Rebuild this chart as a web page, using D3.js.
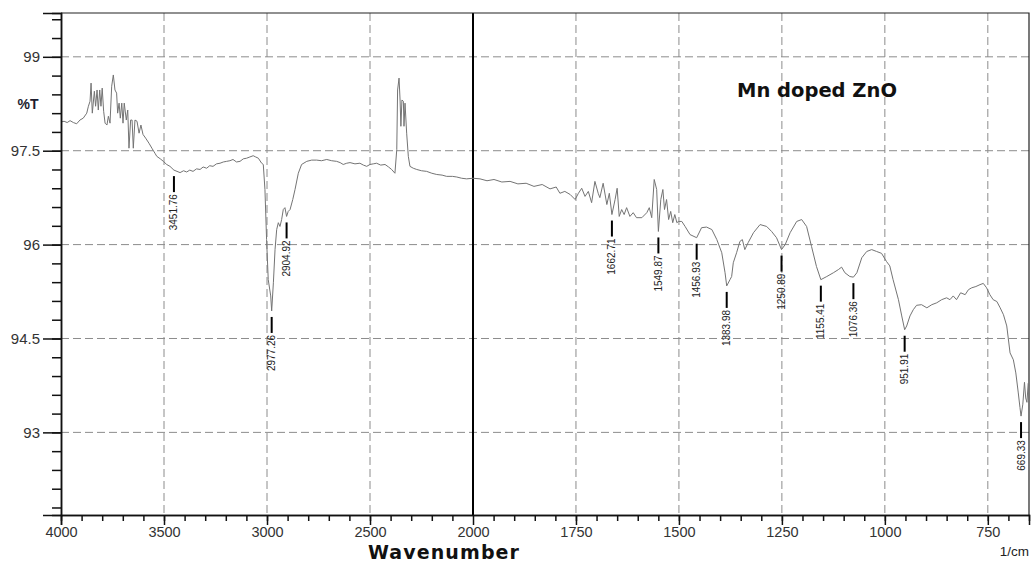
<!DOCTYPE html>
<html>
<head>
<meta charset="utf-8">
<script src="https://cdn.jsdelivr.net/npm/d3@7"></script>
<style>
  html, body { margin: 0; padding: 0; background: #fff; }
  svg { display: block; }
</style>
</head>
<body>
<svg id="chart" width="1033" height="564"></svg>
<script>
// FTIR transmission spectrum of Mn doped ZnO, [wavenumber (1/cm), %T]
const spectrum = [
  [4000, 97.96], [3985, 97.97], [3970, 97.95], [3956, 97.98], [3940, 97.95],
  [3924, 97.93], [3908, 97.99], [3892, 98.02], [3875, 98.10], [3867, 98.21],
  [3859, 98.29], [3854, 98.58], [3848, 98.10], [3838, 98.45], [3832, 98.21],
  [3825, 98.47], [3819, 98.15], [3812, 98.47], [3806, 98.21], [3800, 98.50],
  [3793, 98.13], [3786, 97.94], [3777, 97.91], [3770, 98.05], [3762, 97.94],
  [3754, 98.53], [3746, 98.71], [3738, 98.47], [3730, 98.42], [3725, 98.10],
  [3718, 98.26], [3712, 98.02], [3705, 98.26], [3699, 97.94], [3693, 98.26],
  [3683, 97.99], [3676, 98.15], [3670, 97.54], [3662, 97.99], [3655, 97.99],
  [3649, 97.54], [3641, 97.99], [3631, 97.97], [3621, 97.78], [3612, 97.91],
  [3602, 97.76], [3589, 97.70], [3573, 97.62], [3557, 97.53], [3544, 97.46],
  [3535, 97.41], [3518, 97.37], [3503, 97.33], [3487, 97.28], [3471, 97.25],
  [3451.76, 97.19], [3422, 97.15], [3405, 97.18], [3390, 97.16], [3375, 97.19],
  [3359, 97.17], [3342, 97.21], [3325, 97.20], [3310, 97.24], [3293, 97.22],
  [3278, 97.26], [3262, 97.25], [3245, 97.29], [3228, 97.30], [3212, 97.32],
  [3196, 97.33], [3180, 97.34], [3165, 97.36], [3148, 97.32], [3131, 97.33],
  [3115, 97.37], [3099, 97.38], [3083, 97.40], [3067, 97.42], [3055, 97.40],
  [3042, 97.38], [3026, 97.30], [3018, 97.28], [3010, 96.88], [3002, 96.08],
  [2994, 95.44], [2982, 95.18], [2977.26, 94.94], [2969, 95.39], [2961, 95.92],
  [2953, 96.24], [2945, 96.35], [2937, 96.29], [2929, 96.40], [2921, 96.56],
  [2913, 96.59], [2904.92, 96.45], [2897, 96.53], [2888, 96.56], [2875, 96.72],
  [2864, 96.88], [2848, 97.14], [2832, 97.28], [2807, 97.33], [2783, 97.35],
  [2759, 97.35], [2735, 97.34], [2710, 97.36], [2686, 97.34], [2662, 97.33],
  [2645, 97.31], [2630, 97.28], [2613, 97.30], [2597, 97.31], [2573, 97.29],
  [2549, 97.30], [2532, 97.27], [2516, 97.25], [2500, 97.28], [2484, 97.29],
  [2468, 97.30], [2448, 97.27], [2427, 97.28], [2410, 97.24], [2395, 97.20],
  [2379, 97.14], [2370, 97.52], [2366, 98.47], [2359, 98.66], [2354, 98.31],
  [2350, 97.89], [2345, 98.31], [2338, 98.29], [2335, 97.89], [2330, 98.26],
  [2322, 97.78], [2314, 97.41], [2306, 97.25], [2290, 97.22], [2273, 97.20],
  [2250, 97.18], [2225, 97.17], [2200, 97.14], [2176, 97.12], [2150, 97.11],
  [2128, 97.09], [2100, 97.09], [2079, 97.08], [2055, 97.06], [2031, 97.05],
  [2000, 97.06], [1983, 97.05], [1966, 97.02], [1949, 97.04], [1930, 97.00],
  [1910, 97.01], [1891, 96.97], [1871, 96.98], [1852, 96.93], [1832, 96.96],
  [1813, 96.89], [1798, 96.92], [1789, 96.82], [1777, 96.85], [1764, 96.80],
  [1752, 96.72], [1744, 96.82], [1736, 96.90], [1728, 96.77], [1720, 96.85],
  [1712, 96.67], [1704, 97.01], [1696, 96.82], [1692, 96.75], [1684, 96.98],
  [1675, 96.64], [1669, 96.82], [1662.71, 96.48], [1655, 96.72], [1650, 96.90],
  [1645, 96.45], [1639, 96.56], [1633, 96.48], [1627, 96.59], [1619, 96.45],
  [1611, 96.51], [1603, 96.43], [1590, 96.43], [1578, 96.51], [1572, 96.59],
  [1566, 96.43], [1560, 97.04], [1554, 96.88], [1549.87, 96.21], [1544, 96.72],
  [1539, 96.88], [1535, 96.56], [1530, 96.72], [1525, 96.40], [1520, 96.53],
  [1515, 96.35], [1510, 96.48], [1505, 96.35], [1501, 96.37], [1493, 96.37],
  [1485, 96.29], [1473, 96.16], [1456.93, 96.11], [1445, 96.27], [1433, 96.28],
  [1420, 96.24], [1408, 96.08], [1396, 95.87], [1388, 95.55], [1383.98, 95.34],
  [1376, 95.44], [1372, 95.49], [1368, 95.71], [1360, 95.87], [1352, 96.05],
  [1346, 96.08], [1340, 95.92], [1332, 96.03], [1319, 96.19], [1303, 96.32],
  [1287, 96.29], [1275, 96.21], [1263, 96.11], [1250.89, 95.92], [1242, 96.00],
  [1230, 96.19], [1214, 96.37], [1202, 96.40], [1190, 96.29], [1178, 95.97],
  [1166, 95.65], [1155.41, 95.44], [1141, 95.49], [1125, 95.55], [1113, 95.60],
  [1105, 95.64], [1097, 95.55], [1085, 95.49], [1076.36, 95.48], [1068, 95.55],
  [1056, 95.79], [1044, 95.89], [1032, 95.92], [1020, 95.89], [1008, 95.86],
  [996, 95.73], [988, 95.66], [980, 95.44], [967, 95.12], [959, 94.86],
  [951.91, 94.64], [947, 94.70], [939, 94.86], [931, 94.96], [923, 95.03],
  [911, 95.04], [898, 94.99], [886, 95.04], [874, 95.07], [862, 95.12],
  [850, 95.15], [842, 95.12], [834, 95.18], [826, 95.12], [816, 95.23],
  [805, 95.20], [797, 95.28], [789, 95.31], [779, 95.33], [769, 95.36],
  [761, 95.38], [753, 95.31], [745, 95.20], [737, 95.12], [728, 95.09],
  [720, 94.99], [712, 94.88], [704, 94.70], [696, 94.27], [688, 94.16],
  [682, 93.95], [676, 93.63], [672, 93.40], [669.33, 93.26], [665, 93.45],
  [661, 93.80], [658, 93.55], [655, 93.48], [652, 93.78], [650, 93.75]
];

// Picked peaks (wavenumbers printed under each band)
const peakWavenumbers = [3451.76, 2977.26, 2904.92, 1662.71, 1549.87, 1456.93,
  1383.98, 1250.89, 1155.41, 1076.36, 951.91, 669.33];

// Axis ticks
const xMajorTicks = [4000, 3500, 3000, 2500, 2000, 1750, 1500, 1250, 1000, 750];
const xGridTicks = [3500, 3000, 2500, 1750, 1500, 1250, 1000, 750];
const xMinorUpper = d3.range(3900, 2000, -100);
const xMinorLower = d3.range(1950, 650, -50);
const yMajorTicks = [93, 94.5, 96, 97.5, 99];
const yMinorTicks = d3.range(91.8, 99.7, 0.3).map(v => +v.toFixed(1));

const titleText = "Mn doped ZnO";
const xTitle = "Wavenumber";
const yTitle = "%T";
const xUnit = "1/cm";

// Plot frame
const plotLeft = 61, plotRight = 1029, plotTop = 13, plotBottom = 515;

const svg = d3.select("#chart");

// Split scale: 4000-2000 compressed, 2000-650 expanded
const x = d3.scaleLinear().domain([4000, 2000, 650]).range([plotLeft, 473, plotRight]);
const y = d3.scaleLinear().domain([91.68, 99.70]).range([plotBottom, plotTop]);

// Dashed grid
const grid = svg.append("g").attr("stroke", "#8c8c8c").attr("stroke-width", 1)
  .attr("stroke-dasharray", "8,4").attr("fill", "none");
grid.selectAll("line.h").data(yMajorTicks).join("line").attr("class", "h")
  .attr("x1", plotLeft).attr("x2", plotRight)
  .attr("y1", d => y(d)).attr("y2", d => y(d));
grid.selectAll("line.v").data(xGridTicks).join("line").attr("class", "v")
  .attr("x1", d => x(d)).attr("x2", d => x(d))
  .attr("y1", plotTop).attr("y2", plotBottom);

// Solid divider at the scale break
svg.append("line")
  .attr("x1", x(2000)).attr("x2", x(2000)).attr("y1", plotTop).attr("y2", plotBottom)
  .attr("stroke", "#000").attr("stroke-width", 2);

// Frame (top and right)
svg.append("path")
  .attr("d", `M${plotLeft},${plotTop}H${plotRight}V${plotBottom}`)
  .attr("fill", "none").attr("stroke", "#222").attr("stroke-width", 1.2);

// Spectrum line
const line = d3.line().x(d => x(d[0])).y(d => y(d[1]));
svg.append("path").datum(spectrum)
  .attr("d", line)
  .attr("fill", "none").attr("stroke", "#747474").attr("stroke-width", 1)
  .attr("stroke-linejoin", "round");

// X axis
const xAxisMinor = d3.axisBottom(x).tickValues(xMinorUpper.concat(xMinorLower))
  .tickSize(6).tickFormat("");
const xAxisMajor = d3.axisBottom(x).tickValues(xMajorTicks)
  .tickSize(10).tickPadding(2).tickFormat(d3.format("d"));
const gxMinor = svg.append("g").attr("transform", `translate(0,${plotBottom})`).call(xAxisMinor);
const gx = svg.append("g").attr("transform", `translate(0,${plotBottom})`).call(xAxisMajor);
[gx, gxMinor].forEach(g => {
  g.select(".domain").attr("stroke", "#111").attr("stroke-width", 1.5);
  g.selectAll(".tick line").attr("stroke", "#111").attr("stroke-width", 1.5);
});
gx.selectAll(".tick text")
  .attr("font-family", "'Liberation Sans', Arial, sans-serif")
  .attr("font-size", 14.5).attr("fill", "#333");

// Y axis
const yAxisMinor = d3.axisLeft(y).tickValues(yMinorTicks).tickSize(9).tickFormat("");
const yAxisMajor = d3.axisLeft(y).tickValues(yMajorTicks)
  .tickSize(18).tickPadding(3).tickFormat(d => String(d));
const gyMinor = svg.append("g").attr("transform", `translate(${plotLeft},0)`).call(yAxisMinor);
const gy = svg.append("g").attr("transform", `translate(${plotLeft},0)`).call(yAxisMajor);
[gy, gyMinor].forEach(g => {
  g.select(".domain").attr("stroke", "#111").attr("stroke-width", 1.5);
  g.selectAll(".tick line").attr("stroke", "#111").attr("stroke-width", 1.5);
});
gy.selectAll(".tick text")
  .attr("font-family", "'Liberation Sans', Arial, sans-serif")
  .attr("font-size", 15).attr("fill", "#333");

// Peak markers and their wavenumber labels
const wnSorted = spectrum.slice().sort((a, b) => a[0] - b[0]);
const bis = d3.bisector(d => d[0]).left;
function transmittanceAt(wn) {
  const i = bis(wnSorted, wn);
  if (i <= 0) return wnSorted[0][1];
  if (i >= wnSorted.length) return wnSorted[wnSorted.length - 1][1];
  const a = wnSorted[i - 1], b = wnSorted[i];
  const t = (wn - a[0]) / (b[0] - a[0]);
  return a[1] + t * (b[1] - a[1]);
}
const gap = 6, tickLen = 16;
const peaks = svg.append("g");
peakWavenumbers.forEach(wn => {
  const px = x(wn), py = y(transmittanceAt(wn));
  peaks.append("line")
    .attr("x1", px).attr("x2", px)
    .attr("y1", py + gap).attr("y2", py + gap + tickLen)
    .attr("stroke", "#000").attr("stroke-width", 2);
  peaks.append("text")
    .attr("transform", `translate(${px + 3.5},${py + gap + tickLen + 2}) rotate(-90)`)
    .attr("text-anchor", "end")
    .attr("font-family", "'Liberation Sans', Arial, sans-serif")
    .attr("font-size", 10).attr("fill", "#222")
    .text(wn.toFixed(2));
});

// Titles
svg.append("text").attr("x", 737).attr("y", 97)
  .attr("font-family", "'DejaVu Sans', Verdana, sans-serif")
  .attr("font-weight", "bold").attr("font-size", 19.5).attr("fill", "#111")
  .text(titleText);
svg.append("text").attr("x", 444).attr("y", 559).attr("text-anchor", "middle")
  .attr("font-family", "'DejaVu Sans', Verdana, sans-serif")
  .attr("font-weight", "bold").attr("font-size", 19).attr("letter-spacing", 1.1)
  .attr("fill", "#111")
  .text(xTitle);
svg.append("text").attr("x", 28).attr("y", 109).attr("text-anchor", "middle")
  .attr("font-family", "'Liberation Sans', Arial, sans-serif")
  .attr("font-weight", "bold").attr("font-size", 14).attr("fill", "#1c1c2e")
  .text(yTitle);
svg.append("text").attr("x", plotRight).attr("y", 556).attr("text-anchor", "end")
  .attr("font-family", "'Liberation Sans', Arial, sans-serif")
  .attr("font-size", 13.5).attr("fill", "#222")
  .text(xUnit);
</script>
</body>
</html>
